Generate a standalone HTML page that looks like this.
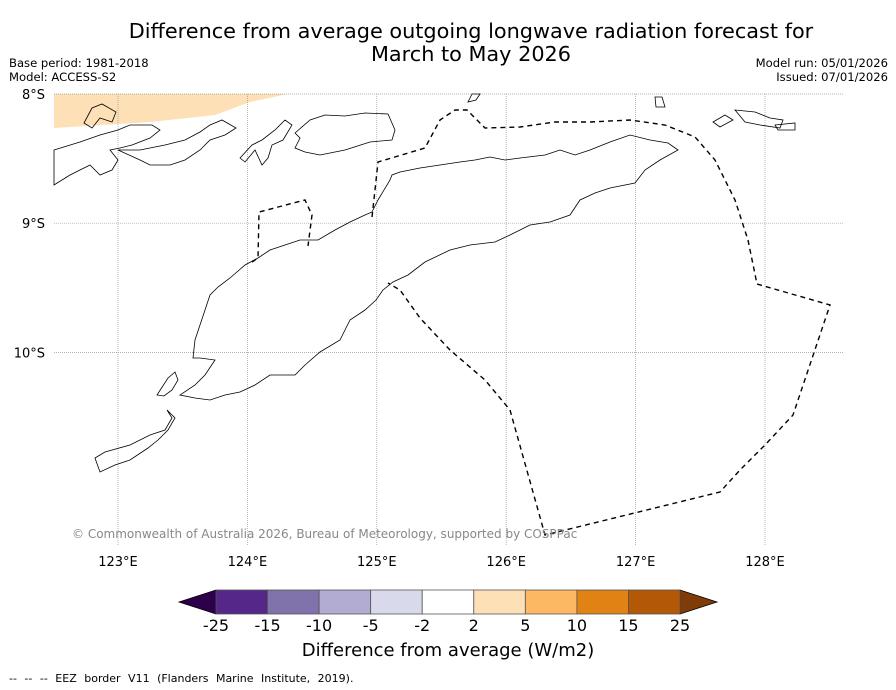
<!DOCTYPE html>
<html><head><meta charset="utf-8"><style>
body{margin:0;background:#fff;font-family:"DejaVu Sans","Liberation Sans",sans-serif;}
#wrap{position:relative;width:896px;height:690px;overflow:hidden;}
.t{position:absolute;white-space:nowrap;}
</style></head><body>
<div id="wrap">
<div class="t" style="left:0;width:942px;top:20px;text-align:center;font-size:20.8px;line-height:23px;">Difference from average outgoing longwave radiation forecast for<br>March to May 2026</div>
<div class="t" style="left:9px;top:56px;font-size:11.6px;line-height:14px;">Base period: 1981-2018<br>Model: ACCESS-S2</div>
<div class="t" style="right:8px;top:56px;font-size:11.6px;line-height:14px;text-align:right;">Model run: 05/01/2026<br>Issued: 07/01/2026</div>
<div class="t" style="left:9px;top:672px;font-size:11px;word-spacing:4px;">--  --  -- EEZ border V11 (Flanders Marine Institute, 2019).</div>
<div class="t" style="left:0;width:896px;text-align:center;top:640px;font-size:18px;">Difference from average (W/m2)</div>
<svg id="svg" width="896" height="690" style="position:absolute;left:0;top:0"></svg>
</div>
<script>
const lonTicks=[123,124,125,126,127,128];
const latTicks=[8,9,10];
const cbTicks=["-25","-15","-10","-5","-2","2","5","10","15","25"];
const cbColors=["#542788","#8073ac","#b2abd2","#d8daeb","#ffffff","#fee0b6","#fdb863","#e08214","#b35806"];
const cbLowExt="#2d004b", cbHighExt="#7f3b08";
const NS="http://www.w3.org/2000/svg";
const svg=document.getElementById('svg');
const X0=54,X1=843,Y0=94,Y1=545;
const lonX=l=>118+(l-123)*129.4;
const latY=l=>94+(l-8)*129.2;
function mk(t,a,p){const e=document.createElementNS(NS,t);for(const k in a)e.setAttribute(k,a[k]);(p||svg).appendChild(e);return e;}
let e=mk('polygon',{points:"54,94 288,94 250,102 215,115 150,122 54,128",fill:"#fee0b6"});


lonTicks.forEach(l=>{const x=lonX(l);
 let g=mk('line',{x1:x,x2:x,y1:Y0,y2:Y1,stroke:"#999",'stroke-width':0.7,'stroke-dasharray':"1,1"});
 
 
 let t=mk('text',{x:x,y:566,'text-anchor':'middle','font-size':13});t.textContent=l+"°E";
 
 
});
latTicks.forEach(l=>{const y=latY(l);
 let g=mk('line',{x1:X0,x2:X1,y1:y,y2:y,stroke:"#999",'stroke-width':0.7,'stroke-dasharray':"1,1"});
 
 
 let t=mk('text',{x:45,y:y+5,'text-anchor':'end','font-size':13});t.textContent=l+"°S";
 
 
});
const coasts=[
"193,358 195,340 205,310 210,295 218,287 230,278 245,265 258,258 270,250 285,245 300,240 318,240 335,230 350,222 365,215 372,212 378,200 390,180 392,175 400,172 420,168 440,165 460,162 475,160 490,157 505,160 520,158 545,155 560,150 575,155 590,150 610,142 630,135 650,140 668,143 678,150 660,160 645,170 635,183 610,188 595,193 580,200 570,215 550,222 530,225 510,235 495,242 470,245 450,250 425,262 408,275 393,282 383,290 376,300 365,310 350,320 340,340 320,352 305,365 295,375 270,375 255,385 240,392 225,395 210,400 195,398 180,395 195,385 205,375 215,360 200,358",
"295,133 310,120 325,115 345,116 365,113 388,114 395,130 392,140 370,142 345,150 320,155 305,152 295,148 300,138",
"240,158 252,145 262,140 275,130 285,120 292,125 283,140 272,145 268,158 262,165 255,150 245,162",
"84,123 92,108 102,104 116,112 112,122 100,118 92,128",
"54,150 80,142 100,135 118,130 130,125 152,125 160,130 150,138 132,145 120,148 110,150 118,160 112,170 100,175 90,165 70,175 54,185",
"118,150 140,150 165,145 185,140 200,132 210,125 222,120 236,128 225,135 210,140 200,150 185,160 170,165 150,165 140,160",
"157,395 168,378 175,372 178,380 172,390 164,396",
"95,458 105,452 130,445 150,435 165,430 172,418 167,410 175,418 168,430 158,440 148,448 130,460 115,465 100,472",
"468,102 472,94 480,94 476,100",
"655,97 662,97 665,107 656,107",
"735,110 755,112 770,118 783,120 780,128 760,125 745,122",
"713,122 725,115 733,120 720,127",
"775,125 795,123 795,130 778,130"
];
coasts.forEach(p=>{let c=mk('polygon',{points:p,fill:"none",stroke:"#000",'stroke-width':0.8});
 
 });
const eez=["372,217 375,190 378,162 425,148 440,120 455,110 467,110 485,128 520,127 555,122 590,122 630,120 665,125 695,137 715,160 735,200 748,240 757,284 830,305 793,415 765,445 740,470 720,492 545,535 510,410 485,380 450,350 420,318 400,290 388,283",
"252,262 258,258 259,212 305,200 312,215 308,246"];
eez.forEach(p=>{let c=mk('polyline',{points:p,fill:"none",stroke:"#000",'stroke-width':1.4,'stroke-dasharray':"5,4"});
 
 });
let cr=mk('text',{x:72,y:538,'font-size':12,fill:"#888"});cr.textContent="© Commonwealth of Australia 2026, Bureau of Meteorology, supported by COSPPac";


const cbX0=216,cbW=(680-216)/cbColors.length,cbY=590,cbH=24;
let lt=mk('polygon',{points:`${cbX0},${cbY} ${cbX0},${cbY+cbH} 179,${cbY+cbH/2}`,fill:cbLowExt,stroke:"#000",'stroke-width':0.8});


let rt=mk('polygon',{points:`680,${cbY} 680,${cbY+cbH} 717,${cbY+cbH/2}`,fill:cbHighExt,stroke:"#000",'stroke-width':0.8});


cbColors.forEach((c,i)=>{let r=mk('rect',{x:cbX0+i*cbW,y:cbY,width:cbW,height:cbH,fill:c,stroke:"#555",'stroke-width':0.8});
 
 });
cbTicks.forEach((t,i)=>{let tx=mk('text',{x:cbX0+i*cbW,y:631,'text-anchor':'middle','font-size':16});tx.textContent=t;
 
 });
</script>
</body></html>
